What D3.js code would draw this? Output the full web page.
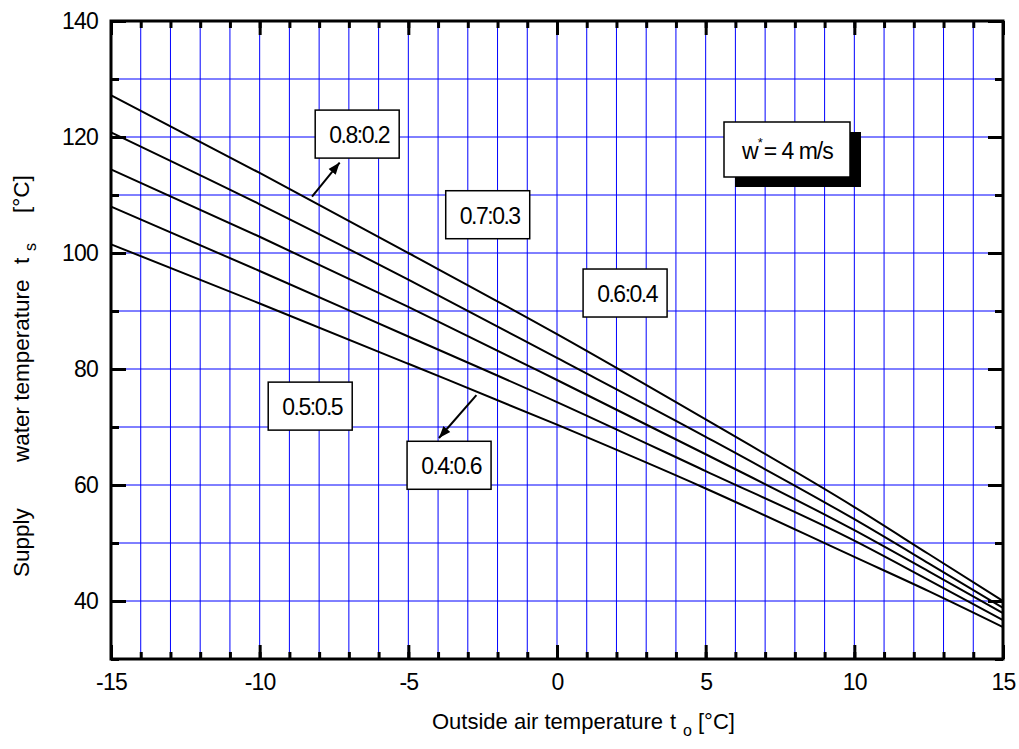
<!DOCTYPE html>
<html>
<head>
<meta charset="utf-8">
<script src="https://cdn.jsdelivr.net/npm/d3@7"></script>
<style>
  body { margin: 0; background: #fff; }
  svg text { font-family: "Liberation Sans", Arial, sans-serif; fill: #000; }
</style>
</head>
<body>
<div id="chart"></div>
<script>
// outside air temperature (x) and supply water temperature curves, one per ratio
var tempOutside = [-15, -10, -5, 0, 5, 10, 12.5, 15];
var curve08 = [127.2, 113.8, 100.0, 86.0, 71.3, 56.2, 48.1, 40.0];
var curve07 = [120.8, 108.4, 95.4, 81.9, 68.3, 54.1, 46.5, 38.8];
var curve06 = [114.4, 102.8, 90.7, 78.1, 65.3, 52.2, 45.1, 37.9];
var curve05 = [108.0, 96.9, 85.6, 74.3, 62.4, 50.4, 43.6, 36.7];
var curve04 = [101.5, 91.3, 80.9, 70.4, 59.4, 47.6, 41.7, 35.5];
var curves = [curve08, curve07, curve06, curve05, curve04];

var xMajorTicks = [-15, -10, -5, 0, 5, 10, 15];
var yMajorTicks = [40, 60, 80, 100, 120, 140];

// labels: text, centre (x, y) in data units
var labelTexts = ["0.8:0.2", "0.7:0.3", "0.6:0.4", "0.5:0.5", "0.4:0.6"];
var labelX = [-6.72, -2.33, 2.29, -8.30, -3.63];
var labelY = [120.5, 106.6, 93.1, 73.6, 63.4];
// arrows: from (x1,y1) to (x2,y2)
var arrowFrom = [[-8.24, 109.7], [-2.71, 75.5]];
var arrowTo = [[-7.31, 115.6], [-3.97, 68.1]];

var W = 1019, H = 749;
var margin = {left: 111, right: 16, top: 21, bottom: 90};

var svg = d3.select("#chart").append("svg")
    .attr("width", W)
    .attr("height", H);

var x = d3.scaleLinear().domain([-15, 15]).range([margin.left, W - margin.right]);
var y = d3.scaleLinear().domain([30, 140]).range([H - margin.bottom, margin.top]);

// grid
var grid = svg.append("g").attr("class", "grid");
grid.selectAll("line.v")
    .data(d3.range(-14, 15, 1))
    .enter().append("line")
    .attr("x1", d => x(d)).attr("x2", d => x(d))
    .attr("y1", y(30)).attr("y2", y(140))
    .attr("stroke", "#0000ff").attr("stroke-width", 1);
grid.selectAll("line.h")
    .data(d3.range(40, 140, 10))
    .enter().append("line")
    .attr("x1", x(-15)).attr("x2", x(15))
    .attr("y1", d => y(d)).attr("y2", d => y(d))
    .attr("stroke", "#0000ff").attr("stroke-width", 1);

// axes with inward ticks
function styleAxis(g) {
    g.select(".domain").remove();
    g.selectAll(".tick line").attr("stroke", "#000").attr("stroke-width", 3);
    g.selectAll(".tick text")
        .style("font-size", "23px")
        .style("letter-spacing", "-0.8px")
        .attr("font-family", null);
}
var plotW = x(15) - x(-15), plotH = y(30) - y(140);
var fmt = d => String(d);

svg.append("g").attr("transform", "translate(0," + y(30) + ")")
    .call(d3.axisBottom(x).tickValues(d3.range(-15, 16, 1)).tickSize(-7).tickFormat(""))
    .call(styleAxis);
svg.append("g").attr("transform", "translate(0," + y(30) + ")")
    .call(d3.axisBottom(x).tickValues(xMajorTicks).tickSize(-14).tickPadding(15).tickFormat(fmt))
    .call(styleAxis);
svg.append("g").attr("transform", "translate(0," + y(140) + ")")
    .call(d3.axisTop(x).tickValues(d3.range(-15, 16, 1)).tickSize(-7).tickFormat(""))
    .call(styleAxis);
svg.append("g").attr("transform", "translate(0," + y(140) + ")")
    .call(d3.axisTop(x).tickValues(xMajorTicks).tickSize(-14).tickFormat(""))
    .call(styleAxis);

svg.append("g").attr("transform", "translate(" + x(-15) + ",0)")
    .call(d3.axisLeft(y).tickValues(d3.range(30, 141, 10)).tickSize(-8).tickFormat(""))
    .call(styleAxis);
svg.append("g").attr("transform", "translate(" + x(-15) + ",0)")
    .call(d3.axisLeft(y).tickValues(yMajorTicks).tickSize(-15).tickPadding(13).tickFormat(fmt))
    .call(styleAxis);
svg.append("g").attr("transform", "translate(" + x(15) + ",0)")
    .call(d3.axisRight(y).tickValues(d3.range(30, 141, 10)).tickSize(-8).tickFormat(""))
    .call(styleAxis);
svg.append("g").attr("transform", "translate(" + x(15) + ",0)")
    .call(d3.axisRight(y).tickValues(yMajorTicks).tickSize(-15).tickFormat(""))
    .call(styleAxis);

// frame
svg.append("rect")
    .attr("x", x(-15)).attr("y", y(140))
    .attr("width", plotW).attr("height", plotH)
    .attr("fill", "none").attr("stroke", "#000").attr("stroke-width", 3);

// curves
var line = d3.line()
    .x((d, i) => x(tempOutside[i]))
    .y(d => y(d))
    .curve(d3.curveMonotoneX);
svg.append("g").selectAll("path")
    .data(curves)
    .enter().append("path")
    .attr("d", line)
    .attr("fill", "none")
    .attr("stroke", "#000")
    .attr("stroke-width", 2);

// arrows
svg.append("defs").append("marker")
    .attr("id", "arrow")
    .attr("viewBox", "0 0 10 10")
    .attr("refX", 10).attr("refY", 5)
    .attr("markerWidth", 6).attr("markerHeight", 6)
    .attr("markerUnits", "strokeWidth")
    .attr("orient", "auto")
    .append("path").attr("d", "M0,1.2 L10,5 L0,8.8 Z").attr("fill", "#000");

svg.append("g").selectAll("line")
    .data(arrowFrom)
    .enter().append("line")
    .attr("x1", d => x(d[0])).attr("y1", d => y(d[1]))
    .attr("x2", (d, i) => x(arrowTo[i][0])).attr("y2", (d, i) => y(arrowTo[i][1]))
    .attr("stroke", "#000").attr("stroke-width", 2)
    .attr("marker-end", "url(#arrow)");

// ratio labels
var boxW = 84, boxH = 48;
var labels = svg.append("g").selectAll("g")
    .data(labelTexts)
    .enter().append("g")
    .attr("transform", (d, i) => "translate(" + x(labelX[i]) + "," + y(labelY[i]) + ")");
labels.append("rect")
    .attr("x", -boxW / 2).attr("y", -boxH / 2)
    .attr("width", boxW).attr("height", boxH)
    .attr("fill", "#fff").attr("stroke", "#000").attr("stroke-width", 1.5);
labels.append("text")
    .attr("x", 2).attr("y", 9)
    .attr("text-anchor", "middle")
    .style("font-size", "23px")
    .style("letter-spacing", "-1.5px")
    .text(d => d);

// w* box with shadow
var wBox = svg.append("g").attr("transform", "translate(724,122)");
wBox.append("rect").attr("x", 11).attr("y", 10).attr("width", 126).attr("height", 55).attr("fill", "#000");
wBox.append("rect").attr("x", 0).attr("y", 0).attr("width", 126).attr("height", 55)
    .attr("fill", "#fff").attr("stroke", "#000").attr("stroke-width", 1.5);
var wt = wBox.append("text").attr("x", 18).attr("y", 37).style("font-size", "23px").style("letter-spacing", "-1px");
wt.append("tspan").text("w");
wt.append("tspan").attr("dy", -12).style("font-size", "13px").text("*");
wt.append("tspan").attr("dy", 12).attr("dx", 2).text("= 4 m/s");

// axis titles
var xt = svg.append("text")
    .attr("y", 729)
    .style("font-size", "22px");
xt.append("tspan").attr("x", 432).text("Outside air temperature");
xt.append("tspan").attr("x", 670).text("t");
xt.append("tspan").attr("x", 683).attr("dy", 7).style("font-size", "16px").text("o");
xt.append("tspan").attr("x", 698).attr("dy", -7).text("[°C]");

var yt = svg.append("text")
    .attr("transform", "translate(29,0) rotate(-90)")
    .style("font-size", "22.5px");
yt.append("tspan").attr("x", -577).text("Supply");
yt.append("tspan").attr("x", -462).text("water temperature");
yt.append("tspan").attr("x", -264).text("t");
yt.append("tspan").attr("x", -251).attr("dy", 7).style("font-size", "16px").text("s");
yt.append("tspan").attr("x", -213).attr("dy", -7).text("[°C]");
</script>
</body>
</html>
